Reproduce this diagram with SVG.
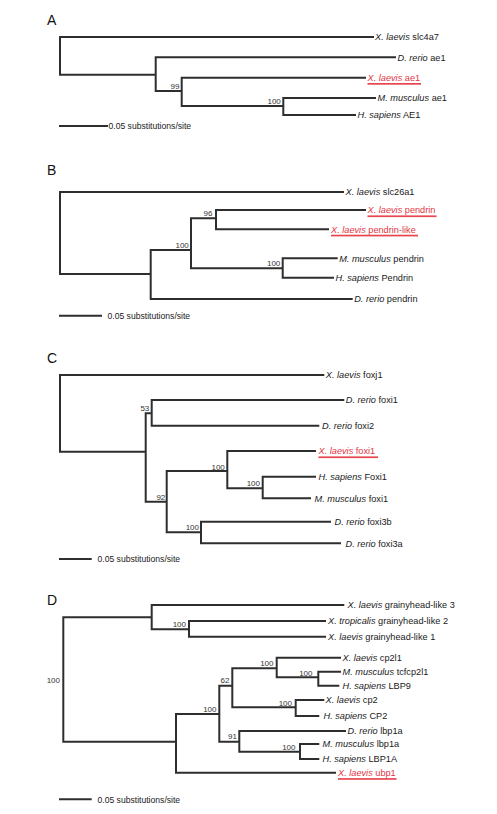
<svg xmlns="http://www.w3.org/2000/svg" width="497" height="814" viewBox="0 0 497 814">
<style>
.br{fill:none;stroke:#2e2e2e;stroke-width:2;stroke-linecap:square}
.lb{font-family:"Liberation Sans",Arial,sans-serif;font-size:9.2px;fill:#1a1a1a}
.red{fill:#e3343f}
.ul{fill:#e8454f}
.bs{font-family:"Liberation Sans",Arial,sans-serif;font-size:8px;fill:#333;text-anchor:end}
.sc{font-family:"Liberation Sans",Arial,sans-serif;font-size:8.6px;fill:#1a1a1a}
.pl{font-family:"Liberation Sans",Arial,sans-serif;font-size:14px;fill:#111}
.i{font-style:italic}
</style>
<rect width="497" height="814" fill="#fff"/>
<g id="connectors">
<path class="br" d="M60,37V74.7M60,37H373M60,74.7H155.7M155.7,57.3V91M155.7,57.3H395M155.7,91H181.7M181.7,77.7V106M181.7,77.7H365M181.7,106H283.3M283.3,98V115M283.3,98H375M283.3,115H355"/>
<path class="br" d="M60,126H107"/>
<path class="br" d="M60,192V274M60,192H343M60,274H150.7M150.7,250V299M150.7,299H351.7M150.7,250H191M191,218.3V268.3M191,218.3H216M216,210V229.3M216,210H365M216,229.3H328M191,268.3H282.7M282.7,258.3V277.7M282.7,258.3H336.7M282.7,277.7H333"/>
<path class="br" d="M60,315.7H101"/>
<path class="br" d="M60,375V451.7M60,375H323.3M60,451.7H145.7M145.7,413.3V501.7M145.7,413.3H151.7M151.7,400V425.7M151.7,400H343.3M151.7,425.7H318.3M145.7,501.7H166.7M166.7,471V532.3M166.7,471H227.3M227.3,451V488.3M227.3,451H315M227.3,488.3H262.7M262.7,476.7V498.3M262.7,476.7H315M262.7,498.3H310M166.7,532.3H201M201,521.7V543.3M201,521.7H330M201,543.3H340"/>
<path class="br" d="M60,559H90.7"/>
<path class="br" d="M63.3,617.3V741.7M63.3,617.3H151.7M151.7,605V629.3M151.7,605H343.3M151.7,629.3H189M189,621V636.7M189,621H325M189,636.7H325M63.3,741.7H176M176,714V772.7M176,772.7H335M176,714H219.3M219.3,685.7V741.7M219.3,685.7H232.3M232.3,668.3V707.3M232.3,668.3H276.7M276.7,657.7V677.3M276.7,657.7H340M276.7,677.3H318.3M318.3,671.7V685.7M318.3,671.7H340M318.3,685.7H338.3M232.3,707.3H295.7M295.7,700V716M295.7,700H323.3M295.7,716H318.3M219.3,741.7H239.3M239.3,731V751.7M239.3,731H345M239.3,751.7H300M300,744V759M300,744H318.3M300,759H318.3"/>
<path class="br" d="M60,799.3H90.7"/>
</g>
<g id="panelA">
<text class="pl" x="47" y="25">A</text>
<g id="A-slc4a7"><text class="lb" x="375" y="40.2"><tspan class="i">X. laevis</tspan> slc4a7</text></g>
<g id="A-drerio-ae1"><text class="lb" x="397.5" y="60.5"><tspan class="i">D. rerio</tspan> ae1</text></g>
<g id="A-xlaevis-ae1"><text class="lb red" x="367.5" y="80.9"><tspan class="i">X. laevis</tspan> ae1</text><rect class="ul" x="367.5" y="83" width="53.5" height="1.7"/></g>
<g id="A-mmus-ae1"><text class="lb" x="377.5" y="101.2"><tspan class="i">M. musculus</tspan> ae1</text></g>
<g id="A-hsap-AE1"><text class="lb" x="357.5" y="118.2"><tspan class="i">H. sapiens</tspan> AE1</text></g>
<g id="A-bs"><text class="bs" x="179.5" y="89">99</text><text class="bs" x="280.8" y="104">100</text></g>
<g id="A-scale"><text class="sc" x="108.5" y="129">0.05 substitutions/site</text></g>
</g>
<g id="panelB">
<text class="pl" x="47" y="175">B</text>
<g id="B-slc26a1"><text class="lb" x="345.5" y="195.2"><tspan class="i">X. laevis</tspan> slc26a1</text></g>
<g id="B-pendrin"><text class="lb red" x="367.5" y="213.2"><tspan class="i">X. laevis</tspan> pendrin</text><rect class="ul" x="367.5" y="215.4" width="69" height="1.7"/></g>
<g id="B-pendrin-like"><text class="lb red" x="331" y="232.5"><tspan class="i">X. laevis</tspan> pendrin-like</text><rect class="ul" x="331" y="234.7" width="87" height="1.7"/></g>
<g id="B-mmus"><text class="lb" x="339.2" y="261.5"><tspan class="i">M. musculus</tspan> pendrin</text></g>
<g id="B-hsap"><text class="lb" x="335.5" y="280.9"><tspan class="i">H. sapiens</tspan> Pendrin</text></g>
<g id="B-drerio"><text class="lb" x="354.2" y="302.2"><tspan class="i">D. rerio</tspan> pendrin</text></g>
<g id="B-bs"><text class="bs" x="212.5" y="216">96</text><text class="bs" x="188.8" y="247.5">100</text><text class="bs" x="280.3" y="265.6">100</text></g>
<g id="B-scale"><text class="sc" x="107.5" y="318.8">0.05 substitutions/site</text></g>
</g>
<g id="panelC">
<text class="pl" x="47" y="363">C</text>
<g id="C-foxj1"><text class="lb" x="325.8" y="378.2"><tspan class="i">X. laevis</tspan> foxj1</text></g>
<g id="C-foxi1d"><text class="lb" x="345.8" y="403.2"><tspan class="i">D. rerio</tspan> foxi1</text></g>
<g id="C-foxi2"><text class="lb" x="322" y="428.9"><tspan class="i">D. rerio</tspan> foxi2</text></g>
<g id="C-foxi1x"><text class="lb red" x="318.5" y="454.2"><tspan class="i">X. laevis</tspan> foxi1</text><rect class="ul" x="318.5" y="456.4" width="59.5" height="1.7"/></g>
<g id="C-hsap"><text class="lb" x="318.5" y="479.9"><tspan class="i">H. sapiens</tspan> Foxi1</text></g>
<g id="C-mmus"><text class="lb" x="314.5" y="501.5"><tspan class="i">M. musculus</tspan> foxi1</text></g>
<g id="C-foxi3b"><text class="lb" x="334.5" y="524.9"><tspan class="i">D. rerio</tspan> foxi3b</text></g>
<g id="C-foxi3a"><text class="lb" x="345.5" y="546.5"><tspan class="i">D. rerio</tspan> foxi3a</text></g>
<g id="C-bs"><text class="bs" x="149.3" y="410.6">53</text><text class="bs" x="165.3" y="499.6">92</text><text class="bs" x="224.8" y="469.6">100</text><text class="bs" x="260" y="486.2">100</text><text class="bs" x="199" y="530.2">100</text></g>
<g id="C-scale"><text class="sc" x="97.5" y="562.2">0.05 substitutions/site</text></g>
</g>
<g id="panelD">
<text class="pl" x="47" y="605">D</text>
<g id="D-grhl3"><text class="lb" x="347.5" y="608.2"><tspan class="i">X. laevis</tspan> grainyhead-like 3</text></g>
<g id="D-grhl2"><text class="lb" x="328" y="624.2"><tspan class="i">X. tropicalis</tspan> grainyhead-like 2</text></g>
<g id="D-grhl1"><text class="lb" x="328" y="639.9"><tspan class="i">X. laevis</tspan> grainyhead-like 1</text></g>
<g id="D-cp2l1"><text class="lb" x="342.5" y="660.9"><tspan class="i">X. laevis</tspan> cp2l1</text></g>
<g id="D-tcfcp2l1"><text class="lb" x="342.5" y="674.9"><tspan class="i">M. musculus</tspan> tcfcp2l1</text></g>
<g id="D-LBP9"><text class="lb" x="342.5" y="688.9"><tspan class="i">H. sapiens</tspan> LBP9</text></g>
<g id="D-cp2"><text class="lb" x="325.5" y="703.2"><tspan class="i">X. laevis</tspan> cp2</text></g>
<g id="D-CP2"><text class="lb" x="323.5" y="719.2"><tspan class="i">H. sapiens</tspan> CP2</text></g>
<g id="D-lbp1a-d"><text class="lb" x="347.5" y="734.2"><tspan class="i">D. rerio</tspan> lbp1a</text></g>
<g id="D-lbp1a-m"><text class="lb" x="322.5" y="747.2"><tspan class="i">M. musculus</tspan> lbp1a</text></g>
<g id="D-LBP1A"><text class="lb" x="322.5" y="762.2"><tspan class="i">H. sapiens</tspan> LBP1A</text></g>
<g id="D-ubp1"><text class="lb red" x="338" y="775.9"><tspan class="i">X. laevis</tspan> ubp1</text><rect class="ul" x="338" y="778.1" width="58.5" height="1.7"/></g>
<g id="D-bs"><text class="bs" x="60" y="683">100</text><text class="bs" x="186" y="627">100</text><text class="bs" x="216.5" y="711.5">100</text><text class="bs" x="229.5" y="682.5">62</text><text class="bs" x="273.5" y="666">100</text><text class="bs" x="312.5" y="675.8">100</text><text class="bs" x="292" y="706">100</text><text class="bs" x="237" y="738.6">91</text><text class="bs" x="295.5" y="749.6">100</text></g>
<g id="D-scale"><text class="sc" x="97.5" y="802.5">0.05 substitutions/site</text></g>
</g>
</svg>
